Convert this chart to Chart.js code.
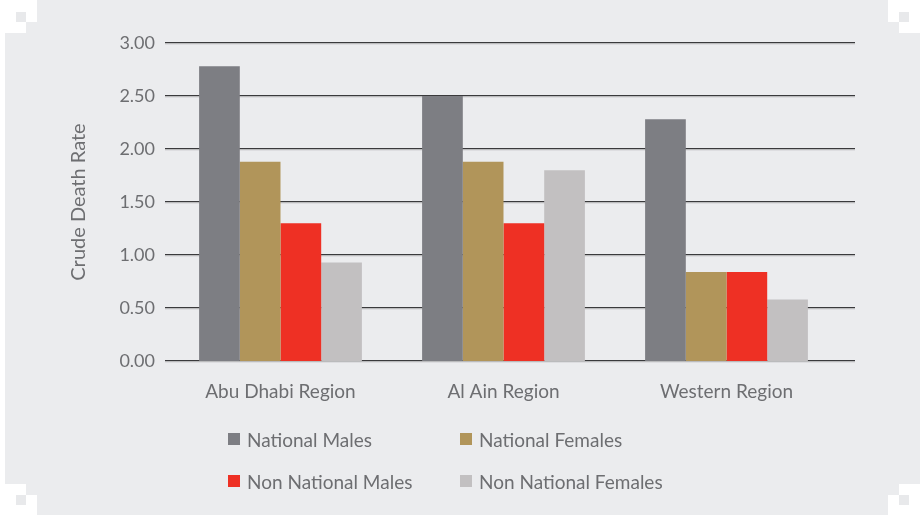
<!DOCTYPE html>
<html><head><meta charset="utf-8">
<script src="https://cdn.jsdelivr.net/npm/chart.js@4"></script>
<style>
html,body{margin:0;padding:0;background:#fff;}
#wrap{position:relative;width:920px;height:515px;overflow:hidden;font-family:Lato,"Open Sans",sans-serif;}
#panel{position:absolute;left:0;top:0;width:920px;height:515px;background:#ebecee;
clip-path:polygon(37px 0,888px 0,888px 22px,899px 22px,899px 33px,920px 33px,920px 484px,899px 484px,899px 495px,888px 495px,888px 515px,37px 515px,37px 495px,26px 495px,26px 484px,5px 484px,5px 33px,26px 33px,26px 22px,37px 22px);}
.sq{position:absolute;width:10px;height:10px;background:#e8e9eb;}
#chartbox{position:absolute;left:0;top:0;width:920px;height:515px;}
#legend{position:absolute;left:228px;top:418px;display:grid;grid-template-columns:232px 240px;grid-auto-rows:42px;}
.li{display:flex;align-items:center;color:#6d6e71;font-size:19px;white-space:nowrap;}
.li span.box{display:inline-block;width:12px;height:12px;margin-right:7px;}
</style></head>
<body>
<div id="wrap">
  <div id="panel"></div>
  <div class="sq" style="left:16px;top:12px"></div>
  <div class="sq" style="left:899px;top:12px"></div>
  <div class="sq" style="left:16px;top:495px"></div>
  <div class="sq" style="left:899px;top:495px"></div>
  <div id="chartbox"><canvas id="c" width="920" height="515"></canvas></div>
  <div id="legend"></div>
</div>
<script>
const categories = ["Abu Dhabi Region", "Al Ain Region", "Western Region"];
const seriesNames = ["National Males", "National Females", "Non National Males", "Non National Females"];
const nationalMales = [2.78, 2.50, 2.28];
const nationalFemales = [1.88, 1.88, 0.84];
const nonNationalMales = [1.30, 1.30, 0.84];
const nonNationalFemales = [0.93, 1.80, 0.58];
const yTickValues = [0, 0.5, 1, 1.5, 2, 2.5, 3];
const seriesColors = ["#7d7e83", "#b1955a", "#ee3024", "#c2c0c1"];
const axisTitle = "Crude Death Rate";

const seriesValues = [nationalMales, nationalFemales, nonNationalMales, nonNationalFemales];
const textColor = "#6d6e71";

const gridPlugin = {
  id: 'wideGrid',
  beforeDatasetsDraw(chart) {
    const ctx = chart.ctx, y = chart.scales.y;
    ctx.save();
    yTickValues.forEach(v => {
      const py = Math.round(y.getPixelForValue(v));
      ctx.fillStyle = "#3a3a3c";
      ctx.fillRect(165, py - 1, 690, 1.4);
      ctx.fillStyle = "#c9c9cb";
      ctx.fillRect(165, py + 0.4, 690, 1);
    });
    ctx.restore();
  }
};

new Chart(document.getElementById('c'), {
  type: 'bar',
  data: {
    labels: categories,
    datasets: seriesNames.map((n, i) => ({
      label: n, data: seriesValues[i], backgroundColor: seriesColors[i],
      borderWidth: 0, categoryPercentage: 0.73, barPercentage: 1.0
    }))
  },
  options: {
    responsive: false, animation: false,
    layout: { padding: { left: 0, right: 82, top: 43, bottom: 0 } },
    plugins: { legend: { display: false }, tooltip: { enabled: false } },
    scales: {
      x: {
        grid: { display: false, drawTicks: false }, border: { display: false },
        ticks: { color: textColor, font: { family: "Lato", size: 19 }, padding: 19 },
        afterFit(s) { s.height = 154; }
      },
      y: {
        min: 0, max: 3,
        afterBuildTicks(s) { s.ticks = yTickValues.map(v => ({ value: v })); },
        grid: { display: false, drawTicks: false }, border: { display: false },
        ticks: { color: textColor, font: { family: "Lato", size: 18 }, padding: 14,
                 callback: v => Number(v).toFixed(2) },
        title: { display: true, text: axisTitle, color: textColor,
                 font: { family: "Lato", size: 20 }, padding: { top: 67, bottom: 0 } },
        afterFit(s) { s.width = 169; }
      }
    }
  },
  plugins: [gridPlugin]
});

const lg = document.getElementById('legend');
seriesNames.forEach((n, i) => {
  const d = document.createElement('div');
  d.className = 'li';
  d.innerHTML = '<span class="box" style="background:' + seriesColors[i] + '"></span>' + n;
  lg.appendChild(d);
});
</script>
</body></html>
